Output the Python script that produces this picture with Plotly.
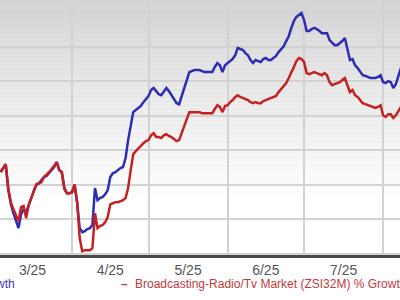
import pandas as pd
import plotly.graph_objects as go

# Daily dates, 2025-03-04 .. 2025-08-08
dates = pd.date_range("2025-03-04", "2025-08-08", freq="D")

stock_name = "Stock Price % Growth"
industry_name = "Broadcasting-Radio/Tv Market (ZSI32M) % Growth"

stock_growth = [
    -6.4, -5.2, -4.1, -11.6, -15.7, -18.3, -20.6, -22.6, -18.6, -17.1,
    -18.0, -15.7, -13.9, -11.9, -10.1, -9.6, -8.7, -7.8, -7.5, -6.7,
    -5.8, -4.9, -3.5, -5.8, -6.4, -11.0, -12.5, -12.5, -12.2, -10.1,
    -15.1, -22.6, -23.8, -23.5, -22.9, -22.6, -21.7, -11.0, -14.5, -13.9,
    -13.6, -12.8, -11.6, -7.8, -6.7, -6.4, -5.8, -5.2, -4.9, -2.3,
    2.9, 7.2, 11.0, 11.6, 12.2, 12.8, 13.9, 14.8, 15.7, 17.4,
    18.0, 17.1, 16.2, 15.9, 17.1, 18.0, 17.1, 15.9, 14.8, 13.6,
    13.3, 15.7, 17.7, 20.3, 22.6, 22.9, 23.2, 23.2, 23.2, 22.9,
    22.6, 22.6, 22.6, 22.6, 24.1, 25.2, 24.6, 22.6, 24.6, 25.2,
    25.8, 26.4, 27.5, 29.6, 29.3, 29.0, 28.1, 27.5, 26.1, 25.2,
    26.1, 25.8, 25.5, 26.4, 26.7, 26.1, 26.1, 26.7, 27.3, 28.4,
    29.3, 30.1, 31.6, 33.0, 35.4, 37.4, 38.6, 39.1, 39.7, 37.7,
    34.5, 34.5, 35.1, 35.4, 35.1, 34.5, 33.9, 33.9, 33.9, 31.9,
    31.0, 30.4, 30.4, 31.0, 31.6, 32.5, 29.0, 26.1, 26.4, 24.6,
    23.8, 22.6, 21.7, 21.5, 21.2, 20.9, 20.9, 20.9, 21.2, 21.7,
    19.7, 19.4, 20.0, 19.7, 18.0, 19.1, 21.5, 23.8,
]

industry_growth = [
    -6.4, -5.2, -4.1, -11.0, -15.1, -17.1, -18.8, -20.6, -16.5, -16.2,
    -19.7, -15.9, -13.9, -11.9, -9.9, -9.6, -9.3, -7.8, -7.2, -6.4,
    -5.5, -4.6, -3.5, -5.8, -6.4, -11.3, -12.5, -12.5, -12.2, -9.9,
    -15.1, -25.5, -29.3, -29.0, -29.0, -29.0, -28.4, -18.3, -22.6, -22.0,
    -21.7, -20.9, -19.4, -15.7, -15.4, -15.1, -15.1, -14.8, -14.5, -13.9,
    -11.0, -5.8, -1.2, -0.3, 0.6, 1.2, 2.0, 2.6, 2.9, 4.3,
    4.9, 3.8, 3.8, 3.5, 4.3, 4.6, 4.1, 3.8, 3.2, 2.6,
    2.9, 4.9, 6.4, 8.7, 11.0, 11.0, 11.0, 11.0, 11.0, 10.7,
    10.7, 10.7, 10.7, 10.7, 11.9, 13.0, 12.5, 11.0, 12.8, 13.0,
    13.9, 14.5, 15.4, 15.9, 15.4, 15.1, 14.8, 14.5, 13.9, 13.6,
    13.9, 13.6, 13.6, 14.2, 14.5, 14.8, 15.1, 15.4, 15.7, 16.8,
    17.7, 18.6, 19.4, 20.9, 22.3, 24.1, 25.8, 26.7, 26.4, 25.5,
    22.3, 22.0, 22.3, 22.6, 22.3, 22.0, 21.7, 22.3, 21.7, 19.7,
    18.8, 19.1, 19.4, 19.7, 20.3, 20.9, 18.8, 16.8, 17.4, 15.9,
    15.4, 14.5, 13.6, 13.3, 13.0, 12.8, 12.5, 12.2, 12.5, 13.0,
    10.1, 9.6, 10.4, 10.4, 9.3, 10.1, 11.3, 12.5,
]

BLUE = "#2c2cb4"
RED = "#c42222"
FONT = "Liberation Sans, Arial, sans-serif"

fig = go.Figure()
fig.add_trace(go.Scatter(x=dates, y=stock_growth, mode="lines", name=stock_name,
                         line=dict(color=BLUE, width=2.5), showlegend=False))
fig.add_trace(go.Scatter(x=dates, y=industry_growth, mode="lines", name=industry_name,
                         line=dict(color=RED, width=2.5), showlegend=False))

# vertical grey-to-white background gradient (decoration)
shapes = []
n = 64
for i in range(n):
    y0 = 1 - i / n
    y1 = 1 - (i + 1) / n
    t = min(1.0, (i + 0.5) / n * 255 / 200)
    c = int(212 + (255 - 212) * t)
    shapes.append(dict(type="rect", xref="paper", yref="paper", x0=0, x1=1,
                       y0=y1, y1=y0, line=dict(width=0),
                       fillcolor=f"rgb({c},{c},{c})", layer="below"))

annotations = [
    dict(text=stock_name, xref="paper", yref="paper", x=0.0425, y=-0.114,
         xanchor="right", yanchor="middle", showarrow=False,
         font=dict(family=FONT, size=12, color="#3a3ab8")),
    dict(text="<b>–</b>", xref="paper", yref="paper",
         x=0.298, y=-0.114, xanchor="left", yanchor="middle", showarrow=False,
         font=dict(family=FONT, size=12, color="#c03a3a")),
    dict(text=industry_name, xref="paper", yref="paper",
         x=0.3325, y=-0.114, xanchor="left", yanchor="middle", showarrow=False,
         font=dict(family=FONT, size=12, color="#c03a3a")),
]

fig.update_layout(
    width=400, height=300,
    margin=dict(l=0, r=0, t=0, b=45, autoexpand=False),
    paper_bgcolor="white", plot_bgcolor="white",
    shapes=shapes, annotations=annotations,
    showlegend=False,
    xaxis=dict(
        type="date",
        range=["2025-03-03 18:00", "2025-08-07 15:00"],
        dtick="M1", tickformat="%-m/%y", ticklabelmode="period",
        showgrid=True, gridcolor="#d2d2d2", gridwidth=1.5,
        showline=True, linecolor="#4a4a4a", linewidth=2.5,
        ticks="", tickfont=dict(family=FONT, size=14, color="#555555"),
        zeroline=False,
    ),
    yaxis=dict(
        range=[-30.4, 43.5], tick0=0, dtick=10,
        showgrid=True, gridcolor="#d2d2d2", gridwidth=1.5,
        showticklabels=False, zeroline=False, showline=False, ticks="",
    ),
)

fig.write_html("out.html")
